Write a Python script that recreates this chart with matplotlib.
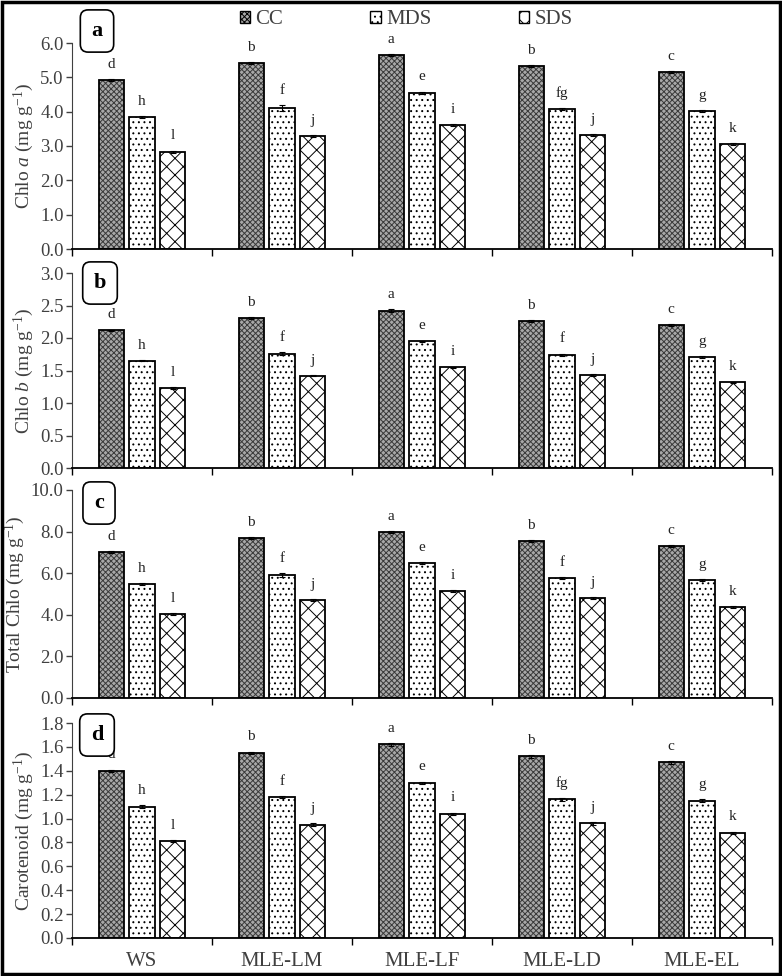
import numpy as np
from matplotlib import pyplot as plt
from matplotlib.patches import Patch, Rectangle

plt.rcParams['font.family'] = ['Liberation Serif', 'DejaVu Serif']
plt.rcParams['mathtext.fontset'] = 'custom'
plt.rcParams['mathtext.rm'] = 'Liberation Serif'
plt.rcParams['mathtext.it'] = 'Liberation Serif:italic'
plt.rcParams['hatch.linewidth'] = 0.7

groups = ["WS", "MLE-LM", "MLE-LF", "MLE-LD", "MLE-EL"]
treatments = ["CC", "MDS", "SDS"]

chlo_a = {"CC": [4.92, 5.42, 5.65, 5.33, 5.16],
          "MDS": [3.84, 4.10, 4.55, 4.07, 4.02],
          "SDS": [2.83, 3.29, 3.60, 3.32, 3.06]}
chlo_a_err = {"CC": [0.03, 0.03, 0.03, 0.03, 0.02],
              "MDS": [0.03, 0.08, 0.03, 0.03, 0.03],
              "SDS": [0.03, 0.03, 0.03, 0.03, 0.03]}
chlo_a_let = {"CC": ["d", "b", "a", "b", "c"],
              "MDS": ["h", "f", "e", "fg", "g"],
              "SDS": ["l", "j", "i", "j", "k"]}

chlo_b = {"CC": [2.12, 2.31, 2.42, 2.26, 2.20],
          "MDS": [1.65, 1.76, 1.95, 1.74, 1.71],
          "SDS": [1.23, 1.42, 1.55, 1.43, 1.32]}
chlo_b_err = {"CC": [0.01, 0.01, 0.02, 0.01, 0.01],
              "MDS": [0.01, 0.02, 0.01, 0.02, 0.01],
              "SDS": [0.01, 0.01, 0.01, 0.01, 0.01]}
chlo_b_let = {"CC": ["d", "b", "a", "b", "c"],
              "MDS": ["h", "f", "e", "f", "g"],
              "SDS": ["l", "j", "i", "j", "k"]}

total = {"CC": [7.02, 7.69, 7.98, 7.55, 7.31],
         "MDS": [5.48, 5.91, 6.49, 5.77, 5.67],
         "SDS": [4.04, 4.71, 5.14, 4.81, 4.38]}
total_err = {"CC": [0.05, 0.04, 0.05, 0.05, 0.04],
             "MDS": [0.04, 0.08, 0.04, 0.05, 0.05],
             "SDS": [0.05, 0.05, 0.05, 0.04, 0.04]}
total_let = {"CC": ["d", "b", "a", "b", "c"],
             "MDS": ["h", "f", "e", "f", "g"],
             "SDS": ["l", "j", "i", "j", "k"]}

carot = {"CC": [1.40, 1.55, 1.62, 1.52, 1.47],
         "MDS": [1.10, 1.18, 1.30, 1.16, 1.15],
         "SDS": [0.81, 0.95, 1.04, 0.96, 0.88]}
carot_err = {"CC": [0.01, 0.01, 0.01, 0.01, 0.01],
             "MDS": [0.01, 0.01, 0.01, 0.01, 0.01],
             "SDS": [0.01, 0.01, 0.01, 0.01, 0.01]}
carot_let = {"CC": ["d", "b", "a", "b", "c"],
             "MDS": ["h", "f", "e", "fg", "g"],
             "SDS": ["l", "j", "i", "j", "k"]}

panels = [
    ("a", chlo_a, chlo_a_err, chlo_a_let, r"Chlo $a$ (mg g$^{-1}$)", 6.0, 1.0),
    ("b", chlo_b, chlo_b_err, chlo_b_let, r"Chlo $b$ (mg g$^{-1}$)", 3.0, 0.5),
    ("c", total, total_err, total_let, r"Total Chlo (mg g$^{-1}$)", 10.0, 2.0),
    ("d", carot, carot_err, carot_let, r"Carotenoid (mg g$^{-1}$)", 1.8, 0.2),
]

# pixel boxes (top, bottom) of each panel's axes, plus label box centre
W, H = 782, 976
ax_px = [(43, 249), (273, 468), (490, 698), (723, 938)]
lab_px = [(97, 31), (100, 283), (99, 503), (97, 735)]
left_px, right_px = 72, 772

styles = {
    "CC": dict(face="#a8a8a8", hatch="xxxxxx", hcol="#3a3a3a"),
    "MDS": dict(face="white", hatch="...", hcol="black"),
    "SDS": dict(face="white", hatch="xx", hcol="black"),
}
offsets = [-0.22, 0.0, 0.22]
width = 0.18
grey = "#404040"

fig = plt.figure(figsize=(W / 100, H / 100), dpi=100)
x = np.arange(len(groups))

for k, (tag, data, err, lets, ylab, ymax, step) in enumerate(panels):
    top, bot = ax_px[k]
    ax = fig.add_axes([left_px / W, 1 - bot / H, (right_px - left_px) / W, (bot - top) / H])
    for t, off in zip(treatments, offsets):
        st = styles[t]
        ax.bar(x + off, data[t], width, color=st["face"], edgecolor=st["hcol"],
               hatch=st["hatch"], linewidth=0, zorder=2)
        ax.bar(x + off, data[t], width, fill=False, edgecolor="black",
               linewidth=1.3, zorder=3)
        ax.errorbar(x + off, data[t], yerr=err[t], fmt="none", ecolor="black",
                    elinewidth=0.8, capsize=2, capthick=0.8, zorder=4)
        for xi, v, e, s in zip(x + off, data[t], err[t], lets[t]):
            ax.annotate(s, (xi, v + e), xytext=(0, 6), textcoords="offset points",
                        ha="center", va="bottom", fontsize=11, color="#222222")
    ticks = np.arange(0, ymax + step / 2, step)
    ax.set_xlim(-0.5, len(groups) - 0.5)
    ax.set_ylim(0, ymax)
    ax.set_yticks(ticks)
    ax.set_yticklabels(["%.1f" % v for v in ticks])
    ax.set_xticks(x)
    ax.set_xticks(np.arange(-0.5, len(groups), 1.0), minor=True)
    ax.tick_params(axis="x", which="major", length=0, pad=10, labelsize=15, labelcolor=grey)
    ax.tick_params(axis="x", which="minor", length=5, width=1, color="black", direction="out")
    ax.tick_params(axis="y", length=4, width=1, color=grey, labelsize=13.5, labelcolor=grey, pad=2)
    if k == len(panels) - 1:
        ax.set_xticklabels(groups)
    else:
        ax.set_xticklabels([])
    for s in ("top", "right"):
        ax.spines[s].set_visible(False)
    ax.spines["left"].set_color(grey)
    ax.spines["bottom"].set_color("black")
    ax.spines["bottom"].set_linewidth(1.3)
    ax.set_ylabel(ylab, fontsize=14, color=grey, labelpad=3)

    lx, ly = lab_px[k]
    fig.text(lx / W, 1 - ly / H, tag, fontsize=16, fontweight="bold", ha="center", va="center",
             bbox=dict(boxstyle="round,pad=0.5,rounding_size=0.35", facecolor="white",
                       edgecolor="black", linewidth=1.2))

handles = [Patch(facecolor=styles[t]["face"], edgecolor="black", hatch=styles[t]["hatch"],
                 linewidth=1) for t in treatments]
fig.legend(handles, treatments, loc="center", bbox_to_anchor=(406 / W, 1 - 20 / H), ncol=3,
           frameon=False, fontsize=15, handlelength=0.5, handleheight=0.5, handletextpad=0.25,
           columnspacing=4.2, labelcolor=grey)

fig.add_artist(Rectangle((0.002, 0.002), 0.996, 0.996, transform=fig.transFigure,
                         fill=False, edgecolor="black", linewidth=2.5))

fig.savefig("out.png", dpi=100)
